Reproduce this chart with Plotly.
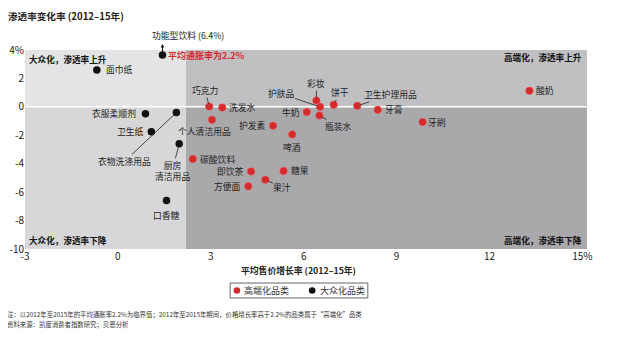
import plotly.graph_objects as go

# ---------------- data ----------------
INFLATION = 2.2
X_RANGE = [-3, 15.15]
Y_RANGE = [-10, 4]

premium_names = ["巧克力", "洗发水", "个人清洁用品", "护发素", "啤酒", "碳酸饮料", "即饮茶", "糖果",
                 "果汁", "方便面", "彩妆", "护肤品", "牛奶", "瓶装水", "饼干", "卫生护理用品",
                 "牙膏", "牙刷", "酸奶"]
premium_x = [2.95, 3.37, 3.04, 5.01, 5.63, 2.42, 4.30, 5.35, 4.76, 4.21, 6.41, 6.53, 6.10, 6.51,
             6.97, 7.73, 8.39, 9.84, 13.29]
premium_y = [0.02, -0.05, -0.91, -1.33, -1.94, -3.67, -4.54, -4.51, -5.12, -5.59, 0.44, 0.00,
             -0.37, -0.61, 0.14, 0.07, -0.21, -1.07, 1.14]

mass_names = ["功能型饮料", "面巾纸", "衣服柔顺剂", "衣物洗涤用品", "卫生纸", "厨房<br>清洁用品", "口香糖"]
mass_x = [1.44, -0.68, 0.89, 1.89, 1.08, 1.98, 1.57]
mass_y = [3.65, 2.60, -0.49, -0.40, -1.75, -2.60, -6.58]

x_ticks = [-3, 0, 3, 6, 9, 12, 15]
x_tick_text = ["-3", "0", "3", "6", "9", "12", "15%"]
y_ticks = [-10, -8, -6, -4, -2, 0, 2, 4]
y_tick_text = ["-10", "-8", "-6", "-4", "-2", "0", "2", "4%"]

# label placement: (mode, dx, dy) ; 'L' text left of point, 'R' right, 'D'/'B' below, 'A' leader line
premium_lab = {
    "巧克力": ("A", -4, -16), "洗发水": ("R", 0, 0), "个人清洁用品": ("B", -8, 0),
    "护发素": ("L", 0, 0), "啤酒": ("D", 0, 0), "碳酸饮料": ("R", 0, 0), "即饮茶": ("L", 0, 0),
    "糖果": ("R", 0, 0), "果汁": ("A", 17, 8), "方便面": ("L", 0, 0), "彩妆": ("A", 0, -17),
    "护肤品": ("A", -39, -13), "牛奶": ("L", 0, 0), "瓶装水": ("A", 19, 11), "饼干": ("A", 6, -12),
    "卫生护理用品": ("A", 33, -11), "牙膏": ("R", 0, 0), "牙刷": ("R", -2, 0), "酸奶": ("R", 0, 0),
}
mass_lab = {
    "功能型饮料": ("N", 0, 0), "面巾纸": ("R", 2, 0), "衣服柔顺剂": ("L", -2, 0),
    "衣物洗涤用品": ("A", -52, 49), "卫生纸": ("L", 0, 0), "厨房<br>清洁用品": ("A", -7, 27),
    "口香糖": ("D", 0, -2),
}

RED = "#d42a2e"
BLACK = "#111111"
FONT = "Noto Sans CJK SC"
LAB_SIZE = 8.8

fig = go.Figure()

# quadrant backgrounds
quad = [
    (X_RANGE[0], INFLATION, 0, Y_RANGE[1], "#e4e4e6"),
    (X_RANGE[0], INFLATION, Y_RANGE[0], 0, "#d7d7d9"),
    (INFLATION, X_RANGE[1], 0, Y_RANGE[1], "#c0c0c2"),
    (INFLATION, X_RANGE[1], Y_RANGE[0], 0, "#a9a9ac"),
]
for x0, x1, y0, y1, c in quad:
    fig.add_shape(type="rect", xref="x", yref="y", x0=x0, x1=x1, y0=y0, y1=y1,
                  fillcolor=c, line_width=0, layer="below")
fig.add_shape(type="line", xref="x", yref="y", x0=X_RANGE[0], x1=X_RANGE[1], y0=0, y1=0,
              line=dict(color="white", width=1.5), layer="below")

fig.add_trace(go.Scatter(x=premium_x, y=premium_y, mode="markers", name="高端化品类",
                         marker=dict(size=7.5, color=RED, line=dict(color="#ec5a5a", width=0.6)),
                         showlegend=False, cliponaxis=False))
fig.add_trace(go.Scatter(x=mass_x, y=mass_y, mode="markers", name="大众化品类",
                         marker=dict(size=7.5, color=BLACK), showlegend=False, cliponaxis=False))


def add_labels(names, xs, ys, spec):
    for n, x, y in zip(names, xs, ys):
        mode, dx, dy = spec[n]
        base = dict(x=x, y=y, xref="x", yref="y", text=n,
                    font=dict(family=FONT, size=LAB_SIZE, color="#222"))
        if mode == "R":
            fig.add_annotation(**base, showarrow=False, xanchor="left", yanchor="middle",
                               xshift=5 + dx, yshift=dy)
        elif mode == "L":
            fig.add_annotation(**base, showarrow=False, xanchor="right", yanchor="middle",
                               xshift=-5 + dx, yshift=dy)
        elif mode == "D":
            fig.add_annotation(**base, showarrow=False, xanchor="center", yanchor="top",
                               yshift=-5 + dy, xshift=dx)
        elif mode == "B":
            fig.add_annotation(**base, showarrow=False, xanchor="center", yanchor="top",
                               yshift=-3 + dy, xshift=dx)
        elif mode == "A":
            fig.add_annotation(**base, showarrow=True, arrowhead=0, arrowwidth=0.8,
                               arrowcolor="#222", ax=dx, ay=dy, standoff=3, borderpad=0)


add_labels(premium_names, premium_x, premium_y, premium_lab)
add_labels(mass_names, mass_x, mass_y, mass_lab)

# off-scale functional drink: arrow + label
fx, fy = mass_x[0], mass_y[0]
fig.add_annotation(x=fx, y=fy, xref="x", yref="y", text="", showarrow=True, arrowhead=2,
                   arrowsize=0.7, arrowwidth=1, arrowcolor=BLACK, ax=0, ay=10, yshift=11)
fig.add_annotation(x=fx, y=fy, xref="x", yref="y", text="功能型饮料 (6.4%)", showarrow=False,
                   xanchor="center", yanchor="middle",
                   xshift=26, yshift=19, font=dict(family=FONT, size=LAB_SIZE, color="#222"))
fig.add_annotation(x=fx, y=fy, xref="x", yref="y", text="<b>平均通胀率为2.2%</b>", showarrow=False,
                   xanchor="left", yanchor="middle", xshift=4, yshift=-1,
                   font=dict(family=FONT, size=9, color=RED))

# quadrant titles
qfont = dict(family=FONT, size=8.6, color="#111")
fig.add_annotation(x=X_RANGE[0], y=Y_RANGE[1], text="<b>大众化，渗透率上升</b>", showarrow=False,
                   xanchor="left", yanchor="top", xshift=2, yshift=-1, font=qfont)
fig.add_annotation(x=X_RANGE[0], y=Y_RANGE[0], text="<b>大众化，渗透率下降</b>", showarrow=False,
                   xanchor="left", yanchor="bottom", xshift=2, yshift=1, font=qfont)
fig.add_annotation(x=X_RANGE[1], y=Y_RANGE[1], text="<b>高端化，渗透率上升</b>", showarrow=False,
                   xanchor="right", yanchor="top", xshift=-3, yshift=1, font=qfont)
fig.add_annotation(x=X_RANGE[1], y=Y_RANGE[0], text="<b>高端化，渗透率下降</b>", showarrow=False,
                   xanchor="right", yanchor="bottom", xshift=-3, yshift=1, font=qfont)

# axis titles
fig.add_annotation(x=-0.034, y=1.171, xref="paper", yref="paper", text="<b>渗透率变化率 (2012–15年)</b>",
                   showarrow=False, xanchor="left", yanchor="middle",
                   font=dict(family=FONT, size=9.6, color="#222"))
fig.add_annotation(x=0.486, y=-0.106, xref="paper", yref="paper", text="<b>平均售价增长率 (2012–15年)</b>",
                   showarrow=False, xanchor="center", yanchor="middle",
                   font=dict(family=FONT, size=8.8, color="#222"))

# manual legend
LEG_Y = -0.2085
fig.add_shape(type="rect", xref="paper", yref="paper", x0=0.365, x1=0.610, y0=-0.246, y1=-0.171,
              line=dict(color="#666", width=1), fillcolor="white")
for px, col, txt in [(0.377, RED, "高端化品类"), (0.511, BLACK, "大众化品类")]:
    fig.add_shape(type="circle", xref="paper", yref="paper", xsizemode="pixel", ysizemode="pixel",
                  xanchor=px, yanchor=LEG_Y, x0=-3.3, x1=3.3, y0=-3.3, y1=3.3,
                  fillcolor=col, line_width=0)
    fig.add_annotation(x=px + 0.0095, y=LEG_Y, xref="paper", yref="paper", text=txt, showarrow=False,
                       xanchor="left", yanchor="middle", font=dict(family=FONT, size=9, color="#333"))

# notes
nfont = dict(family=FONT, size=6.4, color="#333")
fig.add_annotation(x=-0.036, y=-0.327, xref="paper", yref="paper", xanchor="left", yanchor="middle",
                   showarrow=False,
                   text="注：以2012年至2015年的平均通胀率2.2%为临界值；2012年至2015年期间，价格增长率高于2.2%的品类属于“高端化”品类",
                   font=nfont)
fig.add_annotation(x=-0.036, y=-0.377, xref="paper", yref="paper", xanchor="left", yanchor="middle",
                   showarrow=False, text="资料来源：凯度消费者指数研究；贝恩分析", font=nfont)

fig.update_xaxes(range=X_RANGE, tickvals=x_ticks, ticktext=x_tick_text, showgrid=False,
                 zeroline=False, showline=False, ticks="", ticklen=0, automargin=False,
                 tickfont=dict(family=FONT, size=10, color="#222"))
fig.update_yaxes(range=Y_RANGE, tickvals=y_ticks, ticktext=y_tick_text, showgrid=False,
                 zeroline=False, showline=False, ticks="", ticklen=0, automargin=False,
                 tickfont=dict(family=FONT, size=10, color="#222"))

# the page body adds an 8px offset, so the figure is sized to fit the window after it
fig.update_layout(width=623, height=347, margin=dict(l=17, r=44, t=42, b=106),
                  paper_bgcolor="white", plot_bgcolor="white", showlegend=False,
                  font=dict(family=FONT))

fig.write_html("out.html")
